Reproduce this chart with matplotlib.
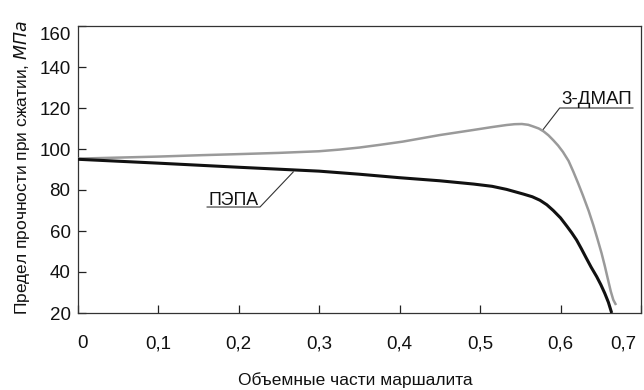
import matplotlib
matplotlib.use("Agg")
import matplotlib.pyplot as plt
import matplotlib.transforms as mtransforms

# Data
pepa_x = [0.0, 0.1, 0.2, 0.3, 0.35, 0.4, 0.45, 0.492, 0.515, 0.533, 0.554, 0.565,
          0.5745, 0.583, 0.591, 0.60, 0.608, 0.614, 0.62, 0.626, 0.632, 0.638,
          0.645, 0.650, 0.655, 0.6595, 0.6636]
pepa_y = [95.0, 93.1, 91.1, 89.2, 87.7, 86.0, 84.5, 82.9, 81.8, 80.3, 78.0, 76.7,
          75.0, 72.8, 70.0, 66.4, 62.3, 59.1, 55.6, 51.3, 46.8, 42.4,
          37.7, 33.9, 29.6, 25.2, 20.0]

dmap_x = [0.0, 0.1, 0.155, 0.2, 0.25, 0.3, 0.325, 0.35, 0.375, 0.404, 0.45, 0.492,
          0.515, 0.533, 0.543, 0.552, 0.56, 0.566, 0.573, 0.579, 0.585, 0.591,
          0.597, 0.603, 0.61, 0.616, 0.622, 0.628, 0.635, 0.641, 0.646, 0.651,
          0.655, 0.659, 0.6625, 0.6656, 0.669]
dmap_y = [95.3, 96.3, 97.0, 97.5, 98.1, 98.9, 99.7, 100.7, 102.0, 103.6, 106.8, 109.3,
          110.7, 111.7, 112.1, 112.2, 111.8, 111.0, 110.0, 108.6, 106.7, 104.3,
          101.7, 98.6, 94.2, 88.9, 83.2, 77.2, 69.8, 62.6, 56.0, 49.2,
          43.0, 36.3, 30.5, 26.4, 23.9]

x_ticks = [0.0, 0.1, 0.2, 0.3, 0.4, 0.5, 0.6, 0.7]
x_tick_labels = ["0", "0,1", "0,2", "0,3", "0,4", "0,5", "0,6", "0,7"]
y_ticks = [20, 40, 60, 80, 100, 120, 140, 160]
y_tick_labels = [str(v) for v in y_ticks]

label_pepa = "ПЭПА"
label_dmap = "3-ДМАП"
x_label = "Объемные части маршалита"

plt.rcParams['font.family'] = ['Liberation Sans', 'DejaVu Sans']

fig = plt.figure(figsize=(6.44, 3.90), dpi=100)
ax = fig.add_axes([77.5/644, 1-313/390, (641-77.5)/644, (313-26)/390])

ax.plot(dmap_x, dmap_y, color='#9a9a9a', lw=1.8, solid_capstyle='butt',
        solid_joinstyle='round', zorder=3)
ax.plot(pepa_x, pepa_y, color='#111111', lw=2.2, solid_capstyle='butt',
        solid_joinstyle='round', zorder=4)

ax.set_xlim(0, 0.7)
ax.set_ylim(20, 160)
ax.set_xticks(x_ticks)
ax.set_xticklabels(x_tick_labels)
ax.set_yticks(y_ticks)
ax.set_yticklabels(y_tick_labels)
ax.tick_params(direction='in', length=5.5, width=0.9, color='#222222',
               labelsize=13.5, labelcolor='#111111')
ax.tick_params(axis='x', pad=16)
ax.tick_params(axis='y', pad=5)
for s in ax.spines.values():
    s.set_color('#333333')
    s.set_linewidth(0.9)

# shift edge tick labels like in the reference
xl = ax.get_xticklabels()
xl[0].set_transform(xl[0].get_transform() + mtransforms.ScaledTranslation(5/100, 0, fig.dpi_scale_trans))
xl[-1].set_transform(xl[-1].get_transform() + mtransforms.ScaledTranslation(-18/100, 0, fig.dpi_scale_trans))
yl = ax.get_yticklabels()
yl[-1].set_transform(yl[-1].get_transform() + mtransforms.ScaledTranslation(0, -8/100, fig.dpi_scale_trans))

# Annotations
ax.text(0.194, 75.0, label_pepa, ha='center', va='center', fontsize=12.8, color='#111111')
ax.plot([0.161, 0.2267, 0.268], [71.7, 71.7, 88.8], color='#333333', lw=0.8, zorder=2)

ax.text(0.6445, 124.0, label_dmap, ha='center', va='center', fontsize=13.5, color='#111111')
ax.plot([0.690, 0.599, 0.578], [120.0, 120.0, 109.3], color='#333333', lw=0.8, zorder=2)

fig.text(355/644, 1-380/390, x_label, ha='center', va='center', fontsize=12.5, color='#111111')
fig.text(22/644, 1-168/390, "Предел прочности при сжатии, $\\mathit{МПа}$",
         ha='center', va='center', rotation=90, fontsize=12.5, color='#111111')

fig.savefig("out.png", dpi=100)
